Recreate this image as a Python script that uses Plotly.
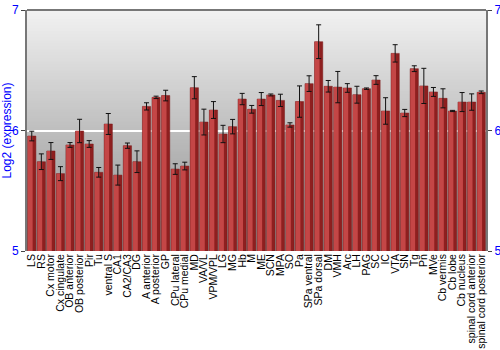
import plotly.graph_objects as go

regions = ["LS", "RS", "Cx motor", "Cx cingulate", "OB anterior", "OB posterior", "Pir", "Tu",
           "ventral S", "CA1", "CA2/CA3", "DG", "A anterior", "A posterior", "GP", "CPu lateral",
           "CPu medial", "MD", "VA/VL", "VPM/VPL", "LG", "MG", "Hb", "M", "ME", "SCN", "MPA", "SO",
           "Pa", "SPa ventral", "SPa dorsal", "DM", "VMH", "Arc", "LH", "PAG", "SC", "IC", "VTA",
           "SN", "Tg", "Pn", "MVe", "Cb vermis", "Cb lobe", "Cb nucleus", "spinal cord anterior",
           "spinal cord posterior"]
expression = [5.954, 5.741, 5.83, 5.642, 5.88, 5.996, 5.888, 5.653,
              6.054, 5.63, 5.874, 5.741, 6.2, 6.275, 6.29, 5.68,
              5.705, 6.355, 6.07, 6.17, 5.971, 6.032, 6.261, 6.176, 6.261, 6.295, 6.25, 6.046,
              6.24, 6.389, 6.737, 6.367, 6.36, 6.353, 6.297, 6.347, 6.419, 6.162, 6.64,
              6.145, 6.513, 6.37, 6.32, 6.267, 6.162, 6.236, 6.236,
              6.317]
error = [0.04, 0.065, 0.07, 0.058, 0.02, 0.097, 0.028, 0.04,
         0.087, 0.083, 0.022, 0.09, 0.03, 0.01, 0.044, 0.044,
         0.032, 0.092, 0.107, 0.07, 0.072, 0.06, 0.047, 0.032, 0.054, 0.008, 0.051, 0.018,
         0.13, 0.065, 0.14, 0.048, 0.13, 0.036, 0.07, 0.006, 0.036, 0.11, 0.072,
         0.03, 0.024, 0.146, 0.037, 0.079, 0.005, 0.079, 0.068,
         0.011]
y_ticks = [5, 6, 7]

fig = go.Figure()

# background gradient (stacked, each rect extends to the top to avoid seams)
n = 80
for i in range(n):
    g = int(round(0x8a + (0xf2 - 0x8a) * ((i + 0.5) / n)))
    fig.add_shape(type="rect", xref="paper", yref="paper", x0=0, x1=1,
                  y0=i / n, y1=1,
                  fillcolor=f"rgb({g},{g},{g})", line=dict(width=0), layer="below")

fig.add_trace(go.Bar(x=regions, y=[v - 5 for v in expression], base=5,
                     marker=dict(color="#8e1f1f", line=dict(color="#7a1818", width=0.5)),
                     width=0.86, hoverinfo="skip", showlegend=False))
fig.add_trace(go.Bar(x=regions, y=[v - 5 for v in expression], base=5,
                     marker=dict(color="#c44646", line=dict(width=0)),
                     width=0.5, offset=-0.41, hoverinfo="skip", showlegend=False))
fig.add_trace(go.Scatter(x=regions, y=expression, mode="markers",
                         marker=dict(size=0.1, color="rgba(0,0,0,0)"),
                         error_y=dict(type="data", array=error, color="#111111",
                                      thickness=1, width=2.5),
                         hoverinfo="skip", showlegend=False))
fig.add_trace(go.Scatter(x=regions, y=expression, yaxis="y2", mode="markers",
                         marker=dict(size=0.1, color="rgba(0,0,0,0)"),
                         hoverinfo="skip", showlegend=False))

fig.update_layout(
    width=500, height=350,
    margin=dict(l=27, r=14, t=10, b=99),
    paper_bgcolor="white", plot_bgcolor="rgba(0,0,0,0)",
    barmode="overlay",
    font=dict(family="Liberation Sans, Arial", size=11, color="black"),
    xaxis=dict(type="category", tickangle=-90, showgrid=False, ticks="",
               tickmode="array", tickvals=regions, ticktext=regions,
               tickfont=dict(size=10.5, color="black"), showline=False,
               automargin=False, ticklabelstandoff=0,
               range=[-0.5, len(regions) - 0.5]),
    yaxis=dict(range=[5, 7], tickvals=y_ticks, ticktext=[str(v) for v in y_ticks],
               tickfont=dict(size=12, color="blue"), showgrid=True, gridcolor="white",
               gridwidth=1.5, zeroline=False, showline=True, linecolor="#777777",
               linewidth=2, ticks="outside", ticklen=4, tickcolor="#444444",
               automargin=False,
               title=dict(text="Log2 (expression)", font=dict(size=12, color="blue"),
                          standoff=4), mirror=False),
    yaxis2=dict(range=[5, 7], overlaying="y", side="right", tickvals=y_ticks,
                tickfont=dict(size=12, color="blue"), showgrid=False, zeroline=False,
                showline=True, linecolor="#777777", linewidth=2, ticks="outside",
                ticklen=4, tickcolor="#444444", automargin=False),
)
fig.add_shape(type="line", xref="paper", yref="paper", x0=0, x1=1, y0=1, y1=1,
              line=dict(color="#777777", width=2))

fig.write_html("out.html")
